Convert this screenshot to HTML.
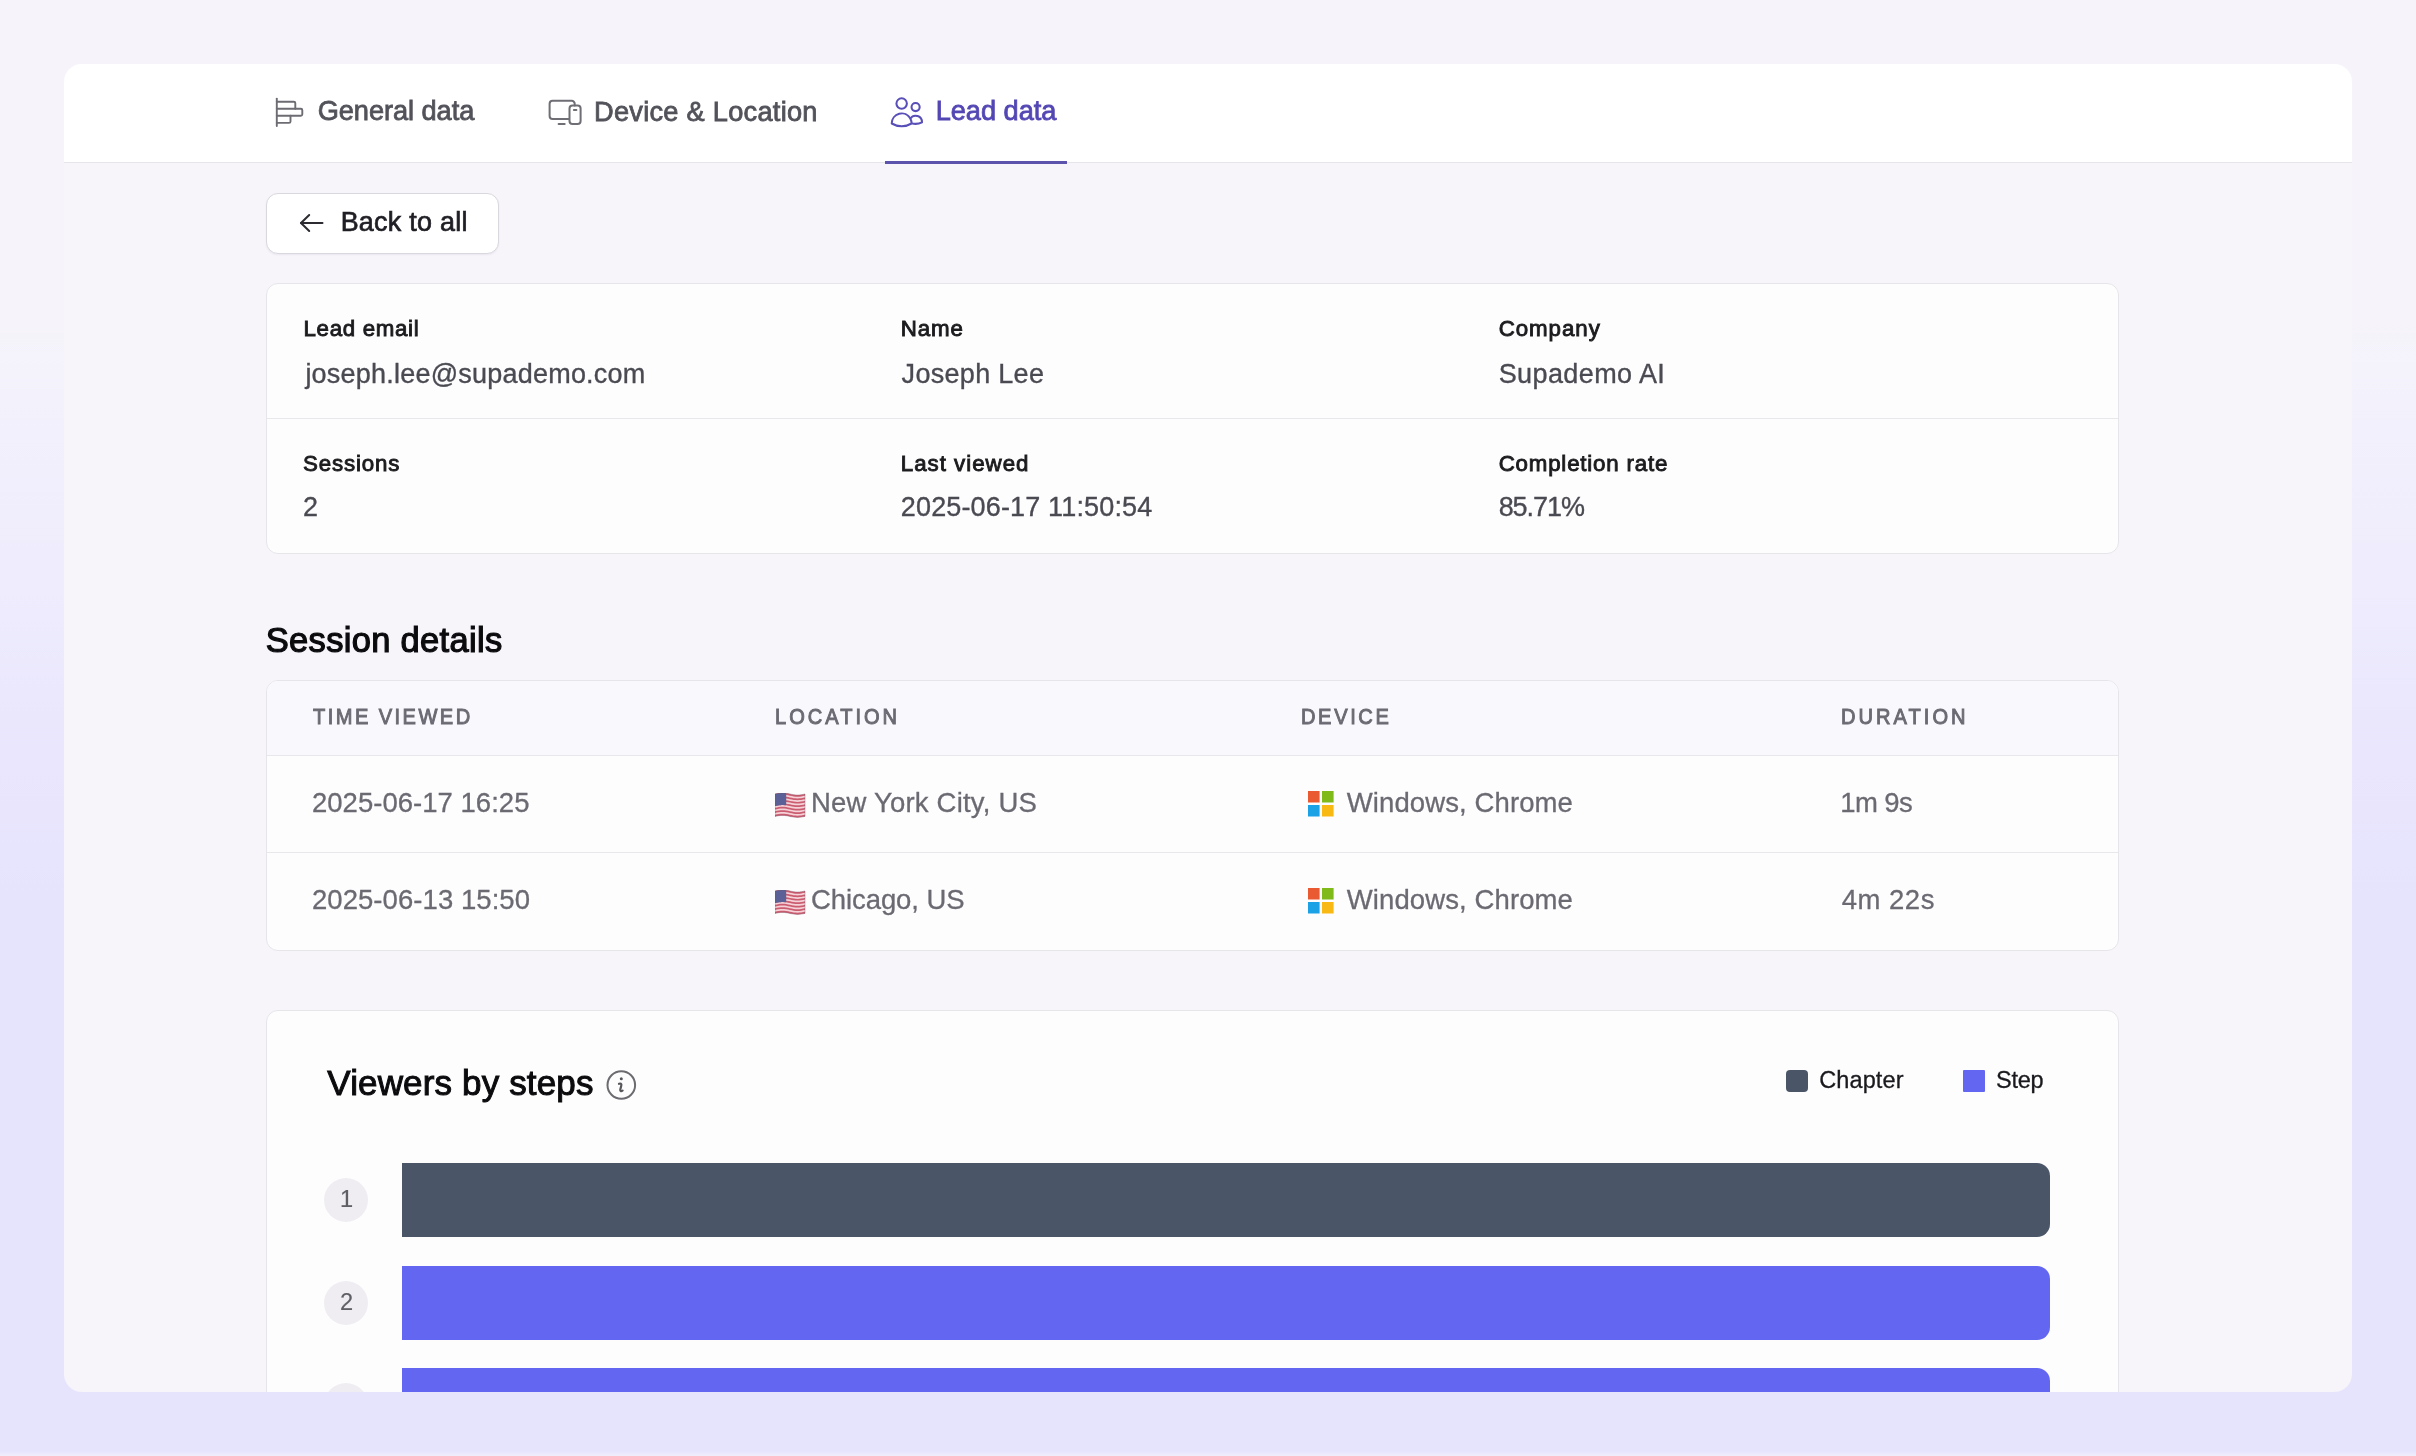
<!DOCTYPE html>
<html><head><meta charset="utf-8">
<style>
*{margin:0;padding:0;box-sizing:border-box}
html,body{width:2416px;height:1456px;overflow:hidden}
body{font-family:"Liberation Sans",sans-serif;position:relative;
background:linear-gradient(180deg,#f6f4fa 0px,#f6f4fa 320px,#f2f0fc 430px,#efedfd 560px,#eae7fd 720px,#e6e3fd 900px,#e6e3fd 1451px,#f0eefb 1456px);}
#wrap{position:absolute;left:0;top:0;width:2416px;height:1456px;filter:blur(0.5px)}
.abs{position:absolute}
.t{position:absolute;white-space:nowrap}
#card{position:absolute;left:64px;top:64px;width:2288px;height:1328px;border-radius:18px;overflow:hidden;background:#f7f5fa;}
#hdr{position:absolute;left:0;top:0;width:100%;height:99px;background:#fff;border-bottom:1px solid #e6e5ea}
.box{position:absolute;background:#fefdfe;border:1px solid #e6e5ea;border-radius:12px}
.hline{position:absolute;height:1px;background:#e8e7ec}
.bar{position:absolute;left:402px;width:1648px;height:74px;border-radius:0 13px 13px 0}
.num{position:absolute;left:324px;width:44px;height:44px;border-radius:50%;background:#efedf2}
</style></head>
<body>
<div id="wrap">
<div id="card">
  <div id="hdr"></div>
</div>

<!-- tab icons -->
<svg class="abs" style="left:270px;top:94px" width="40" height="36" viewBox="0 0 40 36">
  <g fill="none" stroke="#6d6c73" stroke-width="1.9" stroke-linecap="round" stroke-linejoin="round">
    <path d="M6.8 4.6 V32.1"/>
    <path d="M6.8 7.75 H23.8 a1.5 1.5 0 0 1 1.5 1.5 V14.75"/>
    <path d="M6.8 14.75 H30.8 a1.5 1.5 0 0 1 1.5 1.5 V20.3 a1.5 1.5 0 0 1 -1.5 1.5 H6.8"/>
    <path d="M20.5 21.8 V27.4 a1.5 1.5 0 0 1 -1.5 1.5 H6.8"/>
  </g>
</svg>
<svg class="abs" style="left:540px;top:90px" width="50" height="40" viewBox="0 0 50 40">
  <g fill="none" stroke="#6f6e75" stroke-width="2" stroke-linecap="round" stroke-linejoin="round">
    <path d="M28.5 29.05 H12.6 a3 3 0 0 1 -3 -3 V13.8 a3 3 0 0 1 3 -3 H31.7 a3 3 0 0 1 3 3 V15.6"/>
    <rect x="29.5" y="15.6" width="11.1" height="18.3" rx="3"/>
    <path d="M33.9 20.1 H36.4"/>
    <path d="M18.6 33.9 H24.7"/>
  </g>
</svg>
<svg class="abs" style="left:880px;top:90px" width="50" height="42" viewBox="0 0 50 42">
  <g transform="translate(8.28 3.68) scale(1.55)" fill="none" stroke="#594fb8" stroke-width="1.33" stroke-linecap="round" stroke-linejoin="round">
    <path d="M15 19.128a9.38 9.38 0 0 0 2.625.372 9.337 9.337 0 0 0 4.121-.952 4.125 4.125 0 0 0-7.533-2.493M15 19.128v-.003c0-1.113-.285-2.16-.786-3.07M15 19.128v.106A12.318 12.318 0 0 1 8.624 21c-2.331 0-4.512-.645-6.374-1.766l-.001-.109a6.375 6.375 0 0 1 11.964-3.07M12 6.375a3.375 3.375 0 1 1-6.75 0 3.375 3.375 0 0 1 6.75 0Zm8.25 2.25a2.625 2.625 0 1 1-5.25 0 2.625 2.625 0 0 1 5.25 0Z"/>
  </g>
</svg>
<div class="abs" style="left:885px;top:161px;width:182px;height:3px;background:#5c53ad"></div>

<!-- back button -->
<div class="box" style="left:266px;top:193px;width:233px;height:61px;border-radius:12px;background:#fff;border-color:#d9d8de;box-shadow:0 1px 2px rgba(30,20,60,0.06)"></div>
<svg class="abs" style="left:296px;top:210px" width="30" height="26" viewBox="0 0 30 26">
  <g fill="none" stroke="#2b2b31" stroke-width="2" stroke-linecap="round" stroke-linejoin="round">
    <path d="M26.5 13 H5"/>
    <path d="M13.2 5 L5 13 L13.2 21"/>
  </g>
</svg>

<!-- info card -->
<div class="box" style="left:266px;top:283px;width:1853px;height:271px"></div>
<div class="hline" style="left:267px;top:418px;width:1851px"></div>

<!-- table -->
<div class="box" style="left:266px;top:680px;width:1853px;height:271px;overflow:hidden">
  <div style="position:absolute;left:0;top:0;width:100%;height:75px;background:#f9f8fc"></div>
</div>
<div class="hline" style="left:267px;top:755px;width:1851px"></div>
<div class="hline" style="left:267px;top:852px;width:1851px"></div>

<!-- flags -->
<svg class="abs" style="left:775px;top:793.2px" width="31" height="26" viewBox="0 0 31 26">
  <path d="M0.00 1.00 L1.88 0.62 L3.75 0.29 L5.62 0.08 L7.50 0.00 L9.38 0.08 L11.25 0.29 L13.12 0.62 L15.00 1.00 L16.88 1.38 L18.75 1.71 L20.62 1.92 L22.50 2.00 L24.38 1.92 L26.25 1.71 L28.12 1.38 L30.00 1.00 L30.00 23.40 L28.12 23.78 L26.25 24.11 L24.38 24.32 L22.50 24.40 L20.62 24.32 L18.75 24.11 L16.88 23.78 L15.00 23.40 L13.12 23.02 L11.25 22.69 L9.38 22.48 L7.50 22.40 L5.62 22.48 L3.75 22.69 L1.88 23.02 L0.00 23.40 Z" fill="#f4d2d8"/>
  <path d="M0.00 1.00 L1.88 0.62 L3.75 0.29 L5.62 0.08 L7.50 0.00 L9.38 0.08 L11.25 0.29 L13.12 0.62 L15.00 1.00 L16.88 1.38 L18.75 1.71 L20.62 1.92 L22.50 2.00 L24.38 1.92 L26.25 1.71 L28.12 1.38 L30.00 1.00 L30.00 2.72 L28.12 3.11 L26.25 3.43 L24.38 3.65 L22.50 3.72 L20.62 3.65 L18.75 3.43 L16.88 3.11 L15.00 2.72 L13.12 2.34 L11.25 2.02 L9.38 1.80 L7.50 1.72 L5.62 1.80 L3.75 2.02 L1.88 2.34 L0.00 2.72 Z" fill="#cc5c70"/><path d="M0.00 4.45 L1.88 4.06 L3.75 3.74 L5.62 3.52 L7.50 3.45 L9.38 3.52 L11.25 3.74 L13.12 4.06 L15.00 4.45 L16.88 4.83 L18.75 5.15 L20.62 5.37 L22.50 5.45 L24.38 5.37 L26.25 5.15 L28.12 4.83 L30.00 4.45 L30.00 6.17 L28.12 6.55 L26.25 6.88 L24.38 7.09 L22.50 7.17 L20.62 7.09 L18.75 6.88 L16.88 6.55 L15.00 6.17 L13.12 5.79 L11.25 5.46 L9.38 5.25 L7.50 5.17 L5.62 5.25 L3.75 5.46 L1.88 5.79 L0.00 6.17 Z" fill="#cc5c70"/><path d="M0.00 7.89 L1.88 7.51 L3.75 7.19 L5.62 6.97 L7.50 6.89 L9.38 6.97 L11.25 7.19 L13.12 7.51 L15.00 7.89 L16.88 8.27 L18.75 8.60 L20.62 8.82 L22.50 8.89 L24.38 8.82 L26.25 8.60 L28.12 8.27 L30.00 7.89 L30.00 9.62 L28.12 10.00 L26.25 10.32 L24.38 10.54 L22.50 10.62 L20.62 10.54 L18.75 10.32 L16.88 10.00 L15.00 9.62 L13.12 9.23 L11.25 8.91 L9.38 8.69 L7.50 8.62 L5.62 8.69 L3.75 8.91 L1.88 9.23 L0.00 9.62 Z" fill="#cc5c70"/><path d="M0.00 11.34 L1.88 10.96 L3.75 10.63 L5.62 10.41 L7.50 10.34 L9.38 10.41 L11.25 10.63 L13.12 10.96 L15.00 11.34 L16.88 11.72 L18.75 12.05 L20.62 12.26 L22.50 12.34 L24.38 12.26 L26.25 12.05 L28.12 11.72 L30.00 11.34 L30.00 13.06 L28.12 13.44 L26.25 13.77 L24.38 13.99 L22.50 14.06 L20.62 13.99 L18.75 13.77 L16.88 13.44 L15.00 13.06 L13.12 12.68 L11.25 12.35 L9.38 12.14 L7.50 12.06 L5.62 12.14 L3.75 12.35 L1.88 12.68 L0.00 13.06 Z" fill="#cc5c70"/><path d="M0.00 14.78 L1.88 14.40 L3.75 14.08 L5.62 13.86 L7.50 13.78 L9.38 13.86 L11.25 14.08 L13.12 14.40 L15.00 14.78 L16.88 15.17 L18.75 15.49 L20.62 15.71 L22.50 15.78 L24.38 15.71 L26.25 15.49 L28.12 15.17 L30.00 14.78 L30.00 16.51 L28.12 16.89 L26.25 17.21 L24.38 17.43 L22.50 17.51 L20.62 17.43 L18.75 17.21 L16.88 16.89 L15.00 16.51 L13.12 16.13 L11.25 15.80 L9.38 15.58 L7.50 15.51 L5.62 15.58 L3.75 15.80 L1.88 16.13 L0.00 16.51 Z" fill="#cc5c70"/><path d="M0.00 18.23 L1.88 17.85 L3.75 17.52 L5.62 17.31 L7.50 17.23 L9.38 17.31 L11.25 17.52 L13.12 17.85 L15.00 18.23 L16.88 18.61 L18.75 18.94 L20.62 19.15 L22.50 19.23 L24.38 19.15 L26.25 18.94 L28.12 18.61 L30.00 18.23 L30.00 19.95 L28.12 20.34 L26.25 20.66 L24.38 20.88 L22.50 20.95 L20.62 20.88 L18.75 20.66 L16.88 20.34 L15.00 19.95 L13.12 19.57 L11.25 19.25 L9.38 19.03 L7.50 18.95 L5.62 19.03 L3.75 19.25 L1.88 19.57 L0.00 19.95 Z" fill="#cc5c70"/><path d="M0.00 21.68 L1.88 21.29 L3.75 20.97 L5.62 20.75 L7.50 20.68 L9.38 20.75 L11.25 20.97 L13.12 21.29 L15.00 21.68 L16.88 22.06 L18.75 22.38 L20.62 22.60 L22.50 22.68 L24.38 22.60 L26.25 22.38 L28.12 22.06 L30.00 21.68 L30.00 23.40 L28.12 23.78 L26.25 24.11 L24.38 24.32 L22.50 24.40 L20.62 24.32 L18.75 24.11 L16.88 23.78 L15.00 23.40 L13.12 23.02 L11.25 22.69 L9.38 22.48 L7.50 22.40 L5.62 22.48 L3.75 22.69 L1.88 23.02 L0.00 23.40 Z" fill="#cc5c70"/>
  <path d="M0.00 1.00 L0.70 0.85 L1.40 0.71 L2.10 0.57 L2.80 0.45 L3.50 0.33 L4.20 0.23 L4.90 0.14 L5.60 0.08 L6.30 0.03 L7.00 0.01 L7.70 0.00 L8.40 0.02 L9.10 0.06 L9.80 0.11 L10.50 0.19 L11.20 0.29 L11.20 12.35 L10.50 12.25 L9.80 12.18 L9.10 12.12 L8.40 12.08 L7.70 12.06 L7.00 12.07 L6.30 12.09 L5.60 12.14 L4.90 12.21 L4.20 12.29 L3.50 12.39 L2.80 12.51 L2.10 12.64 L1.40 12.77 L0.70 12.92 L0.00 13.06 Z" fill="#5b6196"/>
  <path d="M0.00 1.00 L1.88 0.62 L3.75 0.29 L5.62 0.08 L7.50 0.00 L9.38 0.08 L11.25 0.29 L13.12 0.62 L15.00 1.00 L16.88 1.38 L18.75 1.71 L20.62 1.92 L22.50 2.00 L24.38 1.92 L26.25 1.71 L28.12 1.38 L30.00 1.00 L30.00 23.40 L28.12 23.78 L26.25 24.11 L24.38 24.32 L22.50 24.40 L20.62 24.32 L18.75 24.11 L16.88 23.78 L15.00 23.40 L13.12 23.02 L11.25 22.69 L9.38 22.48 L7.50 22.40 L5.62 22.48 L3.75 22.69 L1.88 23.02 L0.00 23.40 Z" fill="none" stroke="#6e4e5e" stroke-opacity="0.45" stroke-width="0.8"/>
</svg>
<svg class="abs" style="left:775px;top:890.2px" width="31" height="26" viewBox="0 0 31 26">
  <path d="M0.00 1.00 L1.88 0.62 L3.75 0.29 L5.62 0.08 L7.50 0.00 L9.38 0.08 L11.25 0.29 L13.12 0.62 L15.00 1.00 L16.88 1.38 L18.75 1.71 L20.62 1.92 L22.50 2.00 L24.38 1.92 L26.25 1.71 L28.12 1.38 L30.00 1.00 L30.00 23.40 L28.12 23.78 L26.25 24.11 L24.38 24.32 L22.50 24.40 L20.62 24.32 L18.75 24.11 L16.88 23.78 L15.00 23.40 L13.12 23.02 L11.25 22.69 L9.38 22.48 L7.50 22.40 L5.62 22.48 L3.75 22.69 L1.88 23.02 L0.00 23.40 Z" fill="#f4d2d8"/>
  <path d="M0.00 1.00 L1.88 0.62 L3.75 0.29 L5.62 0.08 L7.50 0.00 L9.38 0.08 L11.25 0.29 L13.12 0.62 L15.00 1.00 L16.88 1.38 L18.75 1.71 L20.62 1.92 L22.50 2.00 L24.38 1.92 L26.25 1.71 L28.12 1.38 L30.00 1.00 L30.00 2.72 L28.12 3.11 L26.25 3.43 L24.38 3.65 L22.50 3.72 L20.62 3.65 L18.75 3.43 L16.88 3.11 L15.00 2.72 L13.12 2.34 L11.25 2.02 L9.38 1.80 L7.50 1.72 L5.62 1.80 L3.75 2.02 L1.88 2.34 L0.00 2.72 Z" fill="#cc5c70"/><path d="M0.00 4.45 L1.88 4.06 L3.75 3.74 L5.62 3.52 L7.50 3.45 L9.38 3.52 L11.25 3.74 L13.12 4.06 L15.00 4.45 L16.88 4.83 L18.75 5.15 L20.62 5.37 L22.50 5.45 L24.38 5.37 L26.25 5.15 L28.12 4.83 L30.00 4.45 L30.00 6.17 L28.12 6.55 L26.25 6.88 L24.38 7.09 L22.50 7.17 L20.62 7.09 L18.75 6.88 L16.88 6.55 L15.00 6.17 L13.12 5.79 L11.25 5.46 L9.38 5.25 L7.50 5.17 L5.62 5.25 L3.75 5.46 L1.88 5.79 L0.00 6.17 Z" fill="#cc5c70"/><path d="M0.00 7.89 L1.88 7.51 L3.75 7.19 L5.62 6.97 L7.50 6.89 L9.38 6.97 L11.25 7.19 L13.12 7.51 L15.00 7.89 L16.88 8.27 L18.75 8.60 L20.62 8.82 L22.50 8.89 L24.38 8.82 L26.25 8.60 L28.12 8.27 L30.00 7.89 L30.00 9.62 L28.12 10.00 L26.25 10.32 L24.38 10.54 L22.50 10.62 L20.62 10.54 L18.75 10.32 L16.88 10.00 L15.00 9.62 L13.12 9.23 L11.25 8.91 L9.38 8.69 L7.50 8.62 L5.62 8.69 L3.75 8.91 L1.88 9.23 L0.00 9.62 Z" fill="#cc5c70"/><path d="M0.00 11.34 L1.88 10.96 L3.75 10.63 L5.62 10.41 L7.50 10.34 L9.38 10.41 L11.25 10.63 L13.12 10.96 L15.00 11.34 L16.88 11.72 L18.75 12.05 L20.62 12.26 L22.50 12.34 L24.38 12.26 L26.25 12.05 L28.12 11.72 L30.00 11.34 L30.00 13.06 L28.12 13.44 L26.25 13.77 L24.38 13.99 L22.50 14.06 L20.62 13.99 L18.75 13.77 L16.88 13.44 L15.00 13.06 L13.12 12.68 L11.25 12.35 L9.38 12.14 L7.50 12.06 L5.62 12.14 L3.75 12.35 L1.88 12.68 L0.00 13.06 Z" fill="#cc5c70"/><path d="M0.00 14.78 L1.88 14.40 L3.75 14.08 L5.62 13.86 L7.50 13.78 L9.38 13.86 L11.25 14.08 L13.12 14.40 L15.00 14.78 L16.88 15.17 L18.75 15.49 L20.62 15.71 L22.50 15.78 L24.38 15.71 L26.25 15.49 L28.12 15.17 L30.00 14.78 L30.00 16.51 L28.12 16.89 L26.25 17.21 L24.38 17.43 L22.50 17.51 L20.62 17.43 L18.75 17.21 L16.88 16.89 L15.00 16.51 L13.12 16.13 L11.25 15.80 L9.38 15.58 L7.50 15.51 L5.62 15.58 L3.75 15.80 L1.88 16.13 L0.00 16.51 Z" fill="#cc5c70"/><path d="M0.00 18.23 L1.88 17.85 L3.75 17.52 L5.62 17.31 L7.50 17.23 L9.38 17.31 L11.25 17.52 L13.12 17.85 L15.00 18.23 L16.88 18.61 L18.75 18.94 L20.62 19.15 L22.50 19.23 L24.38 19.15 L26.25 18.94 L28.12 18.61 L30.00 18.23 L30.00 19.95 L28.12 20.34 L26.25 20.66 L24.38 20.88 L22.50 20.95 L20.62 20.88 L18.75 20.66 L16.88 20.34 L15.00 19.95 L13.12 19.57 L11.25 19.25 L9.38 19.03 L7.50 18.95 L5.62 19.03 L3.75 19.25 L1.88 19.57 L0.00 19.95 Z" fill="#cc5c70"/><path d="M0.00 21.68 L1.88 21.29 L3.75 20.97 L5.62 20.75 L7.50 20.68 L9.38 20.75 L11.25 20.97 L13.12 21.29 L15.00 21.68 L16.88 22.06 L18.75 22.38 L20.62 22.60 L22.50 22.68 L24.38 22.60 L26.25 22.38 L28.12 22.06 L30.00 21.68 L30.00 23.40 L28.12 23.78 L26.25 24.11 L24.38 24.32 L22.50 24.40 L20.62 24.32 L18.75 24.11 L16.88 23.78 L15.00 23.40 L13.12 23.02 L11.25 22.69 L9.38 22.48 L7.50 22.40 L5.62 22.48 L3.75 22.69 L1.88 23.02 L0.00 23.40 Z" fill="#cc5c70"/>
  <path d="M0.00 1.00 L0.70 0.85 L1.40 0.71 L2.10 0.57 L2.80 0.45 L3.50 0.33 L4.20 0.23 L4.90 0.14 L5.60 0.08 L6.30 0.03 L7.00 0.01 L7.70 0.00 L8.40 0.02 L9.10 0.06 L9.80 0.11 L10.50 0.19 L11.20 0.29 L11.20 12.35 L10.50 12.25 L9.80 12.18 L9.10 12.12 L8.40 12.08 L7.70 12.06 L7.00 12.07 L6.30 12.09 L5.60 12.14 L4.90 12.21 L4.20 12.29 L3.50 12.39 L2.80 12.51 L2.10 12.64 L1.40 12.77 L0.70 12.92 L0.00 13.06 Z" fill="#5b6196"/>
  <path d="M0.00 1.00 L1.88 0.62 L3.75 0.29 L5.62 0.08 L7.50 0.00 L9.38 0.08 L11.25 0.29 L13.12 0.62 L15.00 1.00 L16.88 1.38 L18.75 1.71 L20.62 1.92 L22.50 2.00 L24.38 1.92 L26.25 1.71 L28.12 1.38 L30.00 1.00 L30.00 23.40 L28.12 23.78 L26.25 24.11 L24.38 24.32 L22.50 24.40 L20.62 24.32 L18.75 24.11 L16.88 23.78 L15.00 23.40 L13.12 23.02 L11.25 22.69 L9.38 22.48 L7.50 22.40 L5.62 22.48 L3.75 22.69 L1.88 23.02 L0.00 23.40 Z" fill="none" stroke="#6e4e5e" stroke-opacity="0.45" stroke-width="0.8"/>
</svg>

<!-- windows logos -->
<svg class="abs" style="left:1308px;top:791px" width="26" height="26" viewBox="0 0 26 26" id="win1">
  <rect x="0" y="0" width="11.6" height="11.5" fill="#ea5a32"/>
  <rect x="14" y="0" width="11.6" height="11.5" fill="#7fba1a"/>
  <rect x="0" y="14" width="11.6" height="11.5" fill="#1ba1e6"/>
  <rect x="14" y="14" width="11.6" height="11.5" fill="#f8b914"/>
</svg>
<svg class="abs" style="left:1308px;top:888px" width="26" height="26" viewBox="0 0 26 26">
  <rect x="0" y="0" width="11.6" height="11.5" fill="#ea5a32"/>
  <rect x="14" y="0" width="11.6" height="11.5" fill="#7fba1a"/>
  <rect x="0" y="14" width="11.6" height="11.5" fill="#1ba1e6"/>
  <rect x="14" y="14" width="11.6" height="11.5" fill="#f8b914"/>
</svg>

<!-- viewers by steps (clipped by card bottom) -->
<div class="abs" style="left:0;top:0;width:2416px;height:1392px;overflow:hidden">
  <div class="box" style="left:266px;top:1010px;width:1853px;height:600px;background:#fefdfe"></div>
  <div class="num" style="top:1178px"></div>
  <div class="num" style="top:1281px"></div>
  <div class="num" style="top:1383px"></div>
  <div class="bar" style="top:1163px;background:#4a5568"></div>
  <div class="bar" style="top:1265.5px;background:#6366f1"></div>
  <div class="bar" style="top:1368px;background:#6366f1"></div>
</div>
<svg class="abs" style="left:604px;top:1068px" width="34" height="34" viewBox="0 0 34 34">
  <circle cx="17.3" cy="17" r="13.8" fill="none" stroke="#6b6b70" stroke-width="2"/>
  <circle cx="17.3" cy="10.8" r="1.5" fill="#55555a"/>
  <path d="M15 15.8 C16.5 15.3 17.8 15.6 17.3 17.5 L16.3 21.5 C16 23 17 23.5 18.6 22.6" fill="none" stroke="#55555a" stroke-width="2.2" stroke-linecap="round"/>
</svg>
<div class="abs" style="left:1786px;top:1070px;width:22px;height:22px;border-radius:4px;background:#4a5568"></div>
<div class="abs" style="left:1963px;top:1070px;width:22px;height:22px;border-radius:1px;background:#6366f1"></div>

<div class="t" style="left:317.64px;top:97.48px;font-size:27.2px;line-height:27.2px;color:#52525a;letter-spacing:-0.046px;-webkit-text-stroke:0.8px #52525a;">General data</div>
<div class="t" style="left:594.04px;top:97.58px;font-size:27.2px;line-height:27.2px;color:#52525a;letter-spacing:0.270px;-webkit-text-stroke:0.8px #52525a;">Device &amp; Location</div>
<div class="t" style="left:935.68px;top:97.48px;font-size:27.2px;line-height:27.2px;color:#5347b4;letter-spacing:-0.020px;-webkit-text-stroke:0.8px #5347b4;">Lead data</div>
<div class="t" style="left:340.68px;top:209.33px;font-size:26.9px;line-height:26.9px;color:#1f1e24;letter-spacing:0.264px;-webkit-text-stroke:0.7px #1f1e24;">Back to all</div>
<div class="t" style="left:303.48px;top:317.92px;font-size:22.3px;line-height:22.3px;color:#1c1c1f;letter-spacing:0.679px;-webkit-text-stroke:0.9px #1c1c1f;">Lead email</div>
<div class="t" style="left:900.80px;top:317.92px;font-size:22.3px;line-height:22.3px;color:#1c1c1f;letter-spacing:0.905px;-webkit-text-stroke:0.9px #1c1c1f;">Name</div>
<div class="t" style="left:1498.64px;top:317.92px;font-size:22.3px;line-height:22.3px;color:#1c1c1f;letter-spacing:0.957px;-webkit-text-stroke:0.9px #1c1c1f;">Company</div>
<div class="t" style="left:305.40px;top:360.94px;font-size:27px;line-height:27px;color:#4a4a52;letter-spacing:0.218px;-webkit-text-stroke:0.35px #4a4a52;">joseph.lee@supademo.com</div>
<div class="t" style="left:901.60px;top:360.94px;font-size:27px;line-height:27px;color:#4a4a52;letter-spacing:0.305px;-webkit-text-stroke:0.35px #4a4a52;">Joseph Lee</div>
<div class="t" style="left:1498.64px;top:360.94px;font-size:27px;line-height:27px;color:#4a4a52;letter-spacing:0.408px;-webkit-text-stroke:0.35px #4a4a52;">Supademo AI</div>
<div class="t" style="left:303.00px;top:452.92px;font-size:22.3px;line-height:22.3px;color:#1c1c1f;letter-spacing:0.829px;-webkit-text-stroke:0.9px #1c1c1f;">Sessions</div>
<div class="t" style="left:900.80px;top:452.92px;font-size:22.3px;line-height:22.3px;color:#1c1c1f;letter-spacing:0.992px;-webkit-text-stroke:0.9px #1c1c1f;">Last viewed</div>
<div class="t" style="left:1498.64px;top:452.92px;font-size:22.3px;line-height:22.3px;color:#1c1c1f;letter-spacing:0.814px;-webkit-text-stroke:0.9px #1c1c1f;">Completion rate</div>
<div class="t" style="left:303.00px;top:493.94px;font-size:27px;line-height:27px;color:#4a4a52;-webkit-text-stroke:0.35px #4a4a52;">2</div>
<div class="t" style="left:900.80px;top:493.94px;font-size:27px;line-height:27px;color:#4a4a52;letter-spacing:0.151px;-webkit-text-stroke:0.35px #4a4a52;">2025-06-17 11:50:54</div>
<div class="t" style="left:1498.64px;top:493.94px;font-size:27px;line-height:27px;color:#4a4a52;letter-spacing:-1.056px;-webkit-text-stroke:0.35px #4a4a52;">85.71%</div>
<div class="t" style="left:265.80px;top:622.60px;font-size:34.5px;line-height:34.5px;color:#0b0b0e;letter-spacing:0.307px;-webkit-text-stroke:1.2px #0b0b0e;">Session details</div>
<div class="t" style="left:312.76px;top:705.20px;font-size:22.8px;line-height:22.8px;color:#6b6a73;letter-spacing:2.784px;-webkit-text-stroke:1.0px #6b6a73;transform:scaleX(0.88);transform-origin:0 0;">TIME VIEWED</div>
<div class="t" style="left:774.64px;top:705.20px;font-size:22.8px;line-height:22.8px;color:#6b6a73;letter-spacing:3.414px;-webkit-text-stroke:1.0px #6b6a73;transform:scaleX(0.88);transform-origin:0 0;">LOCATION</div>
<div class="t" style="left:1301.32px;top:705.20px;font-size:22.8px;line-height:22.8px;color:#6b6a73;letter-spacing:2.992px;-webkit-text-stroke:1.0px #6b6a73;transform:scaleX(0.88);transform-origin:0 0;">DEVICE</div>
<div class="t" style="left:1841.00px;top:705.20px;font-size:22.8px;line-height:22.8px;color:#6b6a73;letter-spacing:3.464px;-webkit-text-stroke:1.0px #6b6a73;transform:scaleX(0.88);transform-origin:0 0;">DURATION</div>
<div class="t" style="left:311.96px;top:789.02px;font-size:27.5px;line-height:27.5px;color:#6b6a72;letter-spacing:0.023px;-webkit-text-stroke:0.3px #6b6a72;">2025-06-17 16:25</div>
<div class="t" style="left:811.00px;top:789.02px;font-size:27.5px;line-height:27.5px;color:#6b6a72;letter-spacing:0.200px;-webkit-text-stroke:0.3px #6b6a72;">New York City, US</div>
<div class="t" style="left:1346.80px;top:789.02px;font-size:27.5px;line-height:27.5px;color:#6b6a72;letter-spacing:0.099px;-webkit-text-stroke:0.3px #6b6a72;">Windows, Chrome</div>
<div class="t" style="left:1840.20px;top:789.02px;font-size:27.5px;line-height:27.5px;color:#6b6a72;letter-spacing:-0.600px;-webkit-text-stroke:0.3px #6b6a72;">1m 9s</div>
<div class="t" style="left:311.96px;top:886.32px;font-size:27.5px;line-height:27.5px;color:#6b6a72;letter-spacing:0.061px;-webkit-text-stroke:0.3px #6b6a72;">2025-06-13 15:50</div>
<div class="t" style="left:811.00px;top:886.32px;font-size:27.5px;line-height:27.5px;color:#6b6a72;letter-spacing:-0.080px;-webkit-text-stroke:0.3px #6b6a72;">Chicago, US</div>
<div class="t" style="left:1346.80px;top:886.32px;font-size:27.5px;line-height:27.5px;color:#6b6a72;letter-spacing:0.099px;-webkit-text-stroke:0.3px #6b6a72;">Windows, Chrome</div>
<div class="t" style="left:1841.80px;top:886.32px;font-size:27.5px;line-height:27.5px;color:#6b6a72;letter-spacing:0.480px;-webkit-text-stroke:0.3px #6b6a72;">4m 22s</div>
<div class="t" style="left:327.28px;top:1064.57px;font-size:35px;line-height:35px;color:#0b0b0e;letter-spacing:0.151px;-webkit-text-stroke:1.0px #0b0b0e;">Viewers by steps</div>
<div class="t" style="left:1819.16px;top:1069.31px;font-size:23.5px;line-height:23.5px;color:#1a1a1e;letter-spacing:0.128px;-webkit-text-stroke:0.3px #1a1a1e;">Chapter</div>
<div class="t" style="left:1996.00px;top:1069.31px;font-size:23.5px;line-height:23.5px;color:#1a1a1e;letter-spacing:-0.223px;-webkit-text-stroke:0.3px #1a1a1e;">Step</div>
<div class="t" style="left:340.00px;top:1188.02px;font-size:23.6px;line-height:23.6px;color:#5f5f66;-webkit-text-stroke:0.2px #5f5f66;">1</div>
<div class="t" style="left:340.00px;top:1291.22px;font-size:23.6px;line-height:23.6px;color:#5f5f66;-webkit-text-stroke:0.2px #5f5f66;">2</div>

</div>
</body></html>
